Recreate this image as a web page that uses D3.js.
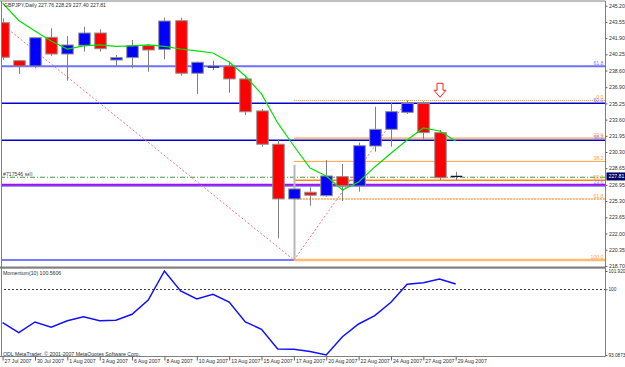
<!DOCTYPE html>
<html><head><meta charset="utf-8">
<script src="https://cdn.jsdelivr.net/npm/d3@7"></script>
<style>body{margin:0;background:#fff}svg{display:block}text{font-family:"Liberation Sans",Arial,sans-serif}</style>
</head><body><svg id="c" width="625" height="367"></svg>
<script>
// ---------- DATA ----------
const dates = ["27 Jul","29 Jul","30 Jul","31 Jul","1 Aug","2 Aug","3 Aug","5 Aug","6 Aug","7 Aug","8 Aug","9 Aug","10 Aug","12 Aug","13 Aug","14 Aug","15 Aug","16 Aug","17 Aug","19 Aug","20 Aug","21 Aug","22 Aug","23 Aug","24 Aug","26 Aug","27 Aug","28 Aug","29 Aug"];
const opens  = [243.47,239.60,239.06,241.98,240.28,241.17,242.42,239.67,239.91,241.13,240.76,243.67,238.32,238.90,239.06,237.74,234.48,231.09,225.52,226.20,225.85,227.79,226.84,230.91,232.61,234.34,235.26,232.27,227.76];
const highs  = [243.90,239.62,241.98,242.90,242.11,243.06,242.80,240.18,241.71,241.27,243.98,243.98,239.50,239.60,239.50,237.90,234.68,231.59,229.00,226.71,229.49,229.08,231.25,234.91,235.30,235.55,235.45,232.54,228.29];
const lows   = [239.70,238.25,238.83,240.08,237.56,240.52,240.52,239.06,238.83,238.48,239.74,238.07,236.21,238.65,236.34,234.07,230.84,221.51,219.30,224.83,225.75,225.31,226.26,230.33,230.84,234.17,231.60,227.45,227.40];
const closes = [239.95,239.06,241.94,240.28,241.20,242.42,240.82,239.91,241.13,240.69,243.64,238.32,239.44,238.95,237.74,234.40,231.09,225.52,226.54,225.90,227.86,226.87,230.94,232.61,234.41,235.26,232.27,227.68,227.81];
const maValues = [245.47,243.69,242.62,241.61,240.79,241.10,241.20,241.05,241.10,241.20,241.05,240.79,240.59,240.38,239.47,238.04,236.21,233.26,230.91,228.67,227.85,226.43,227.25,228.78,230.17,231.52,232.75,232.44,231.42];
const momentum = [96.48,95.43,96.56,96.00,96.69,97.11,96.69,96.74,97.37,98.87,101.92,99.82,98.98,99.47,98.66,96.56,95.79,93.72,93.69,93.46,93.0873,95.01,96.35,97.22,98.63,100.52,100.69,101.08,100.5606];

const dateTickIdx = [0,2,4,6,8,10,12,14,16,18,20,22,24,26,28];
const dateTickLabels = ["27 Jul 2007","30 Jul 2007","1 Aug 2007","3 Aug 2007","6 Aug 2007","8 Aug 2007","10 Aug 2007","13 Aug 2007","15 Aug 2007","17 Aug 2007","20 Aug 2007","22 Aug 2007","24 Aug 2007","27 Aug 2007","29 Aug 2007"];
const priceTicks = [245.20,243.55,241.90,240.25,238.60,236.90,235.25,233.60,231.95,230.30,228.65,226.95,225.30,223.65,222.00,220.35,218.70];
const momTicks = [101.920,100,93.0873];
const momTickLabels = ["101.920","100","93.0873"];

const blueFibIdx = [-6,18];
const blueFibVals = [251.25,219.30];
const blueFibLevels = [0,23.6,38.2,50,61.8];
const blueFibLabelShown = [false,true,true,true,true];
const orangeFibIdx = [18,25];
const orangeFibVals = [219.30,235.55];
const orangeFibLevels = [0,23.6,38.2,50,61.8,100];
const orderPrice = 227.73;
const orderLabel = "#717546 sell";
const purplePrice = 226.97;
const lastPrice = 227.81;
const titleText = "GBPJPY,Daily  227.76 228.29 227.40 227.81";
const momTitle = "Momentum(10) 100.5606";
const copyright = "ODL MetaTrader, \u00a9 2001-2007 MetaQuotes Software Corp.";
const arrowIdx = 27, arrowPrice = 237.3;

// ---------- LAYOUT ----------
const W=625,H=367, R=605.5, mainTop=1, mainBot=266.5, momTop=269, momBot=356.5;
const FS=5.2;
const svg=d3.select("#c");
const x=d3.scaleLinear().domain([0,28]).range([2.6,455.7]);
const y=d3.scaleLinear().domain([218.70,245.20]).range([265.9,5.7]);
const ym=d3.scaleLinear().domain([93.0873,101.92]).range([355,271]);

const defs=svg.append("defs");
defs.append("clipPath").attr("id","cm").append("rect").attr("x",1.5).attr("y",mainTop).attr("width",R-1.5).attr("height",mainBot-mainTop);
defs.append("clipPath").attr("id","cmo").append("rect").attr("x",1.5).attr("y",momTop).attr("width",R-1.5).attr("height",momBot-momTop);

const gm=svg.append("g").attr("clip-path","url(#cm)");
const gmo=svg.append("g").attr("clip-path","url(#cmo)");

// Blue fib levels (ray to right)
const blueStyles=[{c:"#7a7aff",w:2},{c:"#2020ff",w:1},{c:"#0000d0",w:1.5},{c:"#0000d0",w:1.5},{c:"#7070ff",w:2}];
blueFibLevels.forEach((lv,k)=>{
  const v=blueFibVals[1]+lv/100*(blueFibVals[0]-blueFibVals[1]);
  gm.append("line").attr("x1",x(blueFibIdx[0])).attr("x2",R).attr("y1",y(v)).attr("y2",y(v))
    .attr("stroke",blueStyles[k].c).attr("stroke-width",blueStyles[k].w);
});
// purple line
gm.append("line").attr("x1",0).attr("x2",R).attr("y1",y(purplePrice)).attr("y2",y(purplePrice)).attr("stroke","#a010f0").attr("stroke-width",2);
// order line
gm.append("line").attr("x1",0).attr("x2",R).attr("y1",y(orderPrice)).attr("y2",y(orderPrice)).attr("stroke","#4a9a4a").attr("stroke-width",1).attr("stroke-dasharray","5,2,1,2");
gm.append("text").attr("x",3).attr("y",y(orderPrice)-1).attr("font-size",FS).attr("fill","#404040").text(orderLabel);
gm.append("rect").attr("x",29).attr("y",y(orderPrice)-5).attr("width",3).attr("height",4).attr("fill","#c8c8c8");

// Orange fib levels
const orStyles=[{c:"#ff9a30",w:1,d:"1,1"},{c:"#ff9010",w:1,d:null},{c:"#ffa040",w:1,d:null},{c:"#ff8a00",w:1.5,d:null},{c:"#ffa050",w:1.5,d:"2,1"},{c:"#ffbb70",w:2.5,d:null}];
const oH=orangeFibVals[1], oL=orangeFibVals[0];
orangeFibLevels.forEach((lv,k)=>{
  const v=oH-lv/100*(oH-oL);
  const ln=gm.append("line").attr("x1",x(orangeFibIdx[0])).attr("x2",R).attr("y1",y(v)).attr("y2",y(v))
    .attr("stroke",orStyles[k].c).attr("stroke-width",orStyles[k].w);
  if(orStyles[k].d) ln.attr("stroke-dasharray",orStyles[k].d);
});

// Fib diagonals
gm.append("line").attr("x1",x(blueFibIdx[0])).attr("y1",y(blueFibVals[0])).attr("x2",x(blueFibIdx[1])).attr("y2",y(blueFibVals[1]))
  .attr("stroke","#ff7070").attr("stroke-width",1).attr("stroke-dasharray","2,2");
gm.append("line").attr("x1",x(orangeFibIdx[0])).attr("y1",y(orangeFibVals[0])).attr("x2",x(orangeFibIdx[1])).attr("y2",y(orangeFibVals[1]))
  .attr("stroke","#ff7070").attr("stroke-width",1).attr("stroke-dasharray","2,2");

// Candles
const bw=11.5;
dates.forEach((d,i)=>{
  const cx=Math.round(x(i))+0.5;
  const wick=gm.append("line").attr("x1",cx).attr("x2",cx).attr("y1",y(highs[i])).attr("y2",y(lows[i])).attr("stroke","#808080").attr("stroke-width",1);
  if(i===18) wick.attr("stroke","#b8b8b8").attr("stroke-width",2);
  const o=opens[i], c=closes[i];
  if(Math.abs(c-o)<0.1){
    gm.append("line").attr("x1",cx-bw/2).attr("x2",cx+bw/2).attr("y1",y(c)).attr("y2",y(c)).attr("stroke","#101060").attr("stroke-width",1.2);
  } else {
    const top=y(Math.max(o,c)), bot=y(Math.min(o,c));
    gm.append("rect").attr("x",cx-bw/2).attr("y",top).attr("width",bw).attr("height",Math.max(1,bot-top))
      .attr("fill",c>o?"#0000ff":"#ff0000").attr("stroke","#909090").attr("stroke-width",1);
  }
});

// MA line
gm.append("path").datum(maValues).attr("fill","none").attr("stroke","#00e000").attr("stroke-width",1.2)
  .attr("d",d3.line().x((d,i)=>x(i)).y(d=>y(d)));

// Arrow
(function(){
  const ax=x(arrowIdx)+0.5, ay=y(arrowPrice);
  const p=`M${ax-3},${ay} L${ax+3},${ay} L${ax+3},${ay+7} L${ax+6},${ay+7} L${ax},${ay+14} L${ax-6},${ay+7} L${ax-3},${ay+7} Z`;
  gm.append("path").attr("d",p).attr("fill","#fff").attr("stroke","#ff2020").attr("stroke-width",1);
})();

// Fib labels
blueFibLevels.forEach((lv,k)=>{
  if(!blueFibLabelShown[k]) return;
  const v=blueFibVals[1]+lv/100*(blueFibVals[0]-blueFibVals[1]);
  gm.append("text").attr("x",R-2).attr("y",y(v)-1.5).attr("text-anchor","end").attr("font-size",FS).attr("fill","#8080ff").text(lv.toFixed(1));
});
orangeFibLevels.forEach((lv,k)=>{
  const v=oH-lv/100*(oH-oL);
  gm.append("text").attr("x",R-2).attr("y",y(v)-1.5).attr("text-anchor","end").attr("font-size",FS).attr("fill","#ffa050").text(lv.toFixed(1));
});

// Title
svg.append("text").attr("x",4).attr("y",7).attr("font-size",FS).attr("fill","#303030").text(titleText);

// Momentum
gmo.append("line").attr("x1",0).attr("x2",R).attr("y1",Math.round(ym(100))+0.5).attr("y2",Math.round(ym(100))+0.5).attr("stroke","#404040").attr("stroke-width",1).attr("stroke-dasharray","2,2");
gmo.append("path").datum(momentum).attr("fill","none").attr("stroke","#1010ff").attr("stroke-width",1.5)
  .attr("d",d3.line().x((d,i)=>x(i)).y(d=>ym(d)));
svg.append("text").attr("x",3).attr("y",275).attr("font-size",FS).attr("fill","#303030").text(momTitle);
svg.append("text").attr("x",3).attr("y",355.5).attr("font-size",FS).attr("fill","#303030").text(copyright);

// Frames
svg.append("line").attr("x1",0).attr("x2",R).attr("y1",1).attr("y2",1).attr("stroke","#808080");
svg.append("line").attr("x1",1.5).attr("x2",1.5).attr("y1",1).attr("y2",momBot).attr("stroke","#808080");
svg.append("rect").attr("x",0).attr("y",mainBot).attr("width",R).attr("height",2.2).attr("fill","#808080");
svg.append("line").attr("x1",0).attr("x2",R).attr("y1",momBot).attr("y2",momBot).attr("stroke","#808080");
svg.append("line").attr("x1",R).attr("x2",R).attr("y1",1).attr("y2",momBot).attr("stroke","#808080");

// Axes
function styleAxis(g){g.select(".domain").remove();g.selectAll("text").attr("font-size",FS).attr("fill","#303030").attr("font-family","Liberation Sans, Arial, sans-serif");g.selectAll(".tick line").attr("stroke","#606060");}
svg.append("g").attr("transform",`translate(${R},0)`).call(d3.axisRight(y).tickValues(priceTicks).tickSize(2).tickPadding(1.5).tickFormat(d3.format(".2f"))).call(styleAxis);
const ma=svg.append("g").attr("transform",`translate(${R},0)`).call(d3.axisRight(ym).tickValues(momTicks).tickSize(2).tickPadding(1).tickFormat((d,i)=>momTickLabels[i])).call(styleAxis);
ma.selectAll("text").attr("font-size",4.7);
const xa=svg.append("g").attr("transform",`translate(0,${momBot})`).call(d3.axisBottom(x).tickValues(dateTickIdx).tickSize(4).tickPadding(1).tickFormat((d,i)=>dateTickLabels[i])).call(styleAxis);
xa.selectAll("text").attr("text-anchor","start").attr("x",1.5).attr("dy","0.2em");

// current price box
svg.append("rect").attr("x",R+1).attr("y",y(lastPrice)-4).attr("width",W-R-1).attr("height",8).attr("fill","#000060");
svg.append("text").attr("x",R+3).attr("y",y(lastPrice)+2).attr("font-size",FS).attr("fill","#fff").text(lastPrice.toFixed(2));
</script></body></html>
